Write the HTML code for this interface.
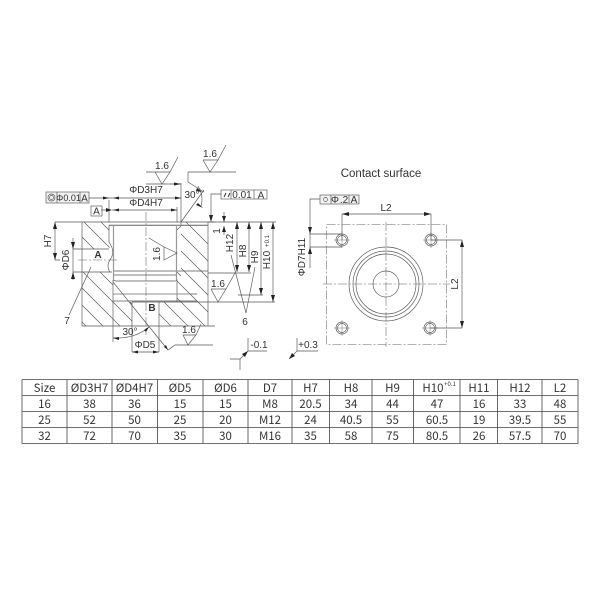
<!DOCTYPE html>
<html><head><meta charset="utf-8"><style>
html,body{margin:0;padding:0;background:#fff;width:600px;height:600px;overflow:hidden}
svg{display:block}
text{font-family:"Liberation Sans",sans-serif;font-size:10px;fill:#333;text-anchor:middle}
.t text{font-family:"Noto Sans CJK SC","Liberation Sans",sans-serif;font-size:11.5px;fill:#333}
.l{stroke:#555;stroke-width:.65;fill:none}
.g{stroke:#999;stroke-width:1.2;fill:none}
.c{stroke:#666;stroke-width:.55;fill:none;stroke-dasharray:9 2 2 2}
.a{fill:#222;stroke:none}
</style></head><body>
<svg width="600" height="600" viewBox="0 0 600 600" xmlns="http://www.w3.org/2000/svg">
<defs>
<clipPath id="h"><path d="M82 222H109V242Q111 246 109 249H82ZM82 272H111L113 282V302H132V326H82ZM181 222H208V326H159V302H177V280L181 272Z"/></clipPath>
</defs>

<!-- hatch -->
<g clip-path="url(#h)" class="l">
<path d="M164 200L304 340M147 200L287 340M130 200L270 340M113 200L253 340M96 200L236 340M79 200L219 340M62 200L202 340M45 200L185 340M28 200L168 340M11 200L151 340M-6 200L134 340M-23 200L117 340M-40 200L100 340"/>
</g>

<!-- left view outline -->
<g class="l">
<path d="M82 222V326M208 222V326M82 326H215"/>
<path d="M82 222H215M109 225.500H208M82 249H109M82 272H112M113 271H208"/>
<path d="M109 200V222M109 225V242Q116 252 110 260Q106 266 110 272M181 183V226M177 207V222"/>
<path d="M113 280Q113 280 116 281H175Q177 281 177 279"/>
<path d="M113 280V326M177 280V302M113 294H197M113 301H197M132 302V352M159 302V352M132 302H208"/>
<path d="M181 226L177 230M177 272L181 276"/>
</g>
<path class="g" d="M113.500 225V280M176.500 225V280M113 275H177"/>
<path class="g" style="stroke-width:.8" d="M109 225H208M113 294H190"/>
<path class="c" d="M146 212V335M78 260H118"/>

<!-- dims left -->
<g class="l">
<path d="M55 222H82M55 260H60M73 249H82M73 272H82M55 222V260M73 238V280"/>
<path d="M89 198H112M109 198H181M112 210H177M101 210H109"/>
<path d="M146 184H181"/>
<path d="M69 315L91 267"/>
<path d="M113 326V342M113 282L168 350L175 345H213"/>
<path d="M113 338Q135 339 149 327"/>
<path d="M132 352H159"/>
</g>
<path class="a" d="M55 222l-2 7h4zM55 260l-2 -7h4zM73 249l-2 -7h4zM73 272l-2 7h4zM113 198l6 -1.500v3zM181 198l-6 -1.500v3zM113 210l6 -1.500v3zM177 210l-6 -1.500v3zM109 198l-6 -1.500v3zM112 210l-6 -2v4zM181 184l-7 -1.500v3zM132 352l6 -1.500v3zM159 352l-6 -1.500v3zM113 338l6 -1v3zM149 327l-5 3l2 2zM168 350l-2 -5l-2 2z"/>
<text x="48" y="241" transform="rotate(-90 48 241)" dy="3">H7</text>
<text x="66" y="260" transform="rotate(-90 66 260)" dy="3">ΦD6</text>
<text x="67" y="324">7</text>
<text x="146" y="193">ΦD3H7</text>
<text x="146" y="206">ΦD4H7</text>
<text x="98" y="258" style="font-weight:bold">A</text>
<text x="152" y="311" style="font-weight:bold">B</text>
<text x="130" y="335">30°</text>
<text x="145" y="348">ΦD5</text>
<text x="192" y="198">30°</text>

<!-- FCF left -->
<g class="l">
<rect x="46" y="192" width="43" height="11" fill="#f0f0f0"/>
<path d="M57 192V203M80 192V203"/>
<circle cx="51.500" cy="197.500" r="3.500"/><circle cx="51.500" cy="197.500" r="2"/>
<rect x="91" y="206" width="11" height="10"/>
</g>
<text x="68.500" y="201" style="font-size:9px">Φ0.01</text>
<text x="84.500" y="201.500">A</text>
<text x="96.500" y="214.500">A</text>

<!-- 1.6 top -->
<g class="l">
<path d="M146 172H170L162 184L155 172M170 172L178 157"/>
<path d="M203 160H218L210 172L203 160M218 160L226 145"/>
<path d="M188 172H236M188 172V182L204 192M181 222L204 190"/>
<path d="M198 186Q204 196 201 206"/>
<rect x="221" y="190" width="46" height="9"/>
<path d="M231 190V199M254 190V199M221 194H211V220"/>
<path d="M224 212V222M224 226V235"/>
</g>
<path class="a" d="M211 222l-2 -7h4zM224 222l-2 -6h4zM224 226l-2 6h4zM202 192l-5 -4l-1 3zM203 208l-5 -5l-2 2z"/>
<text x="162" y="169">1.6</text>
<text x="210" y="157">1.6</text>
<text x="157" y="254" transform="rotate(-90 157 254)" dy="3">1.6</text>
<path class="l" d="M149 238L164 247V260L177 253L164 247"/>
<text x="242" y="198">0.01</text>
<text x="261" y="198.500">A</text>
<path d="M224 197l2 -4M228 197l2 -4" stroke="#333" stroke-width="1"/>

<!-- right dims -->
<g class="l">
<path d="M237 222V272M249 222V272M261 222V295M273 222V302"/>
<path d="M208 273H251M238 295H263M208 302H275M208 222H276"/>
<path d="M211 289H226L218 302L211 289M226 289L235 273"/>
<path d="M231 255L246 313L255 267"/>
</g>
<path class="a" d="M237 222l-2 7h4zM249 222l-2 7h4zM261 222l-2 7h4zM273 222l-2 7h4zM237 272l-2 -7h4zM249 272l-2 -7h4zM261 295l-2 -7h4zM273 302l-2 -7h4z"/>
<text x="217" y="231" transform="rotate(-90 217 231)" dy="3">1</text>
<text x="230" y="243" transform="rotate(-90 230 243)" dy="3">H12</text>
<text x="243" y="251" transform="rotate(-90 243 251)" dy="3">H8</text>
<text x="255" y="257" transform="rotate(-90 255 257)" dy="3">H9</text>
<text x="267" y="260" transform="rotate(-90 267 260)" dy="3">H10</text>
<text x="267" y="241" transform="rotate(-90 267 241)" dy="2" style="font-size:6px">+0.1</text>
<text x="218" y="287">1.6</text>
<text x="245" y="325">6</text>
<path class="l" d="M183 335H196L188 345L183 335M196 335L201 324"/>
<text x="189" y="333">1.6</text>

<!-- -0.1 +0.3 -->
<g class="l">
<path d="M248 338V351H267M248 351L240 359H230M240 359V370"/>
<path d="M297 338V351H318M297 351L289 359"/>
</g>
<path class="a" d="M248 351l-6 3l3 3zM289 359l6 -3l-3 -3z"/>
<text x="259" y="348">-0.1</text>
<text x="308" y="348">+0.3</text>

<!-- Right view -->
<text x="381" y="177" style="font-size:11.500px">Contact surface</text>
<g class="l">
<rect x="320" y="195" width="39" height="9" fill="#f2f2f2"/>
<path d="M331 195V204M349 195V204M320 199H310V268M310 234H342M310 247H342"/>
<path d="M342 214V240M431 214V240M342 214H431M462 240V328M431 240H462M430 328H462"/>
<circle cx="386" cy="284" r="37"/><circle cx="386" cy="284" r="33"/><circle cx="386" cy="284" r="30"/><circle cx="386" cy="284" r="13"/>
<circle cx="342" cy="240" r="6"/><circle cx="342" cy="240" r="4.500"/>
<circle cx="431" cy="240" r="6"/><circle cx="431" cy="240" r="4.500"/>
<circle cx="342" cy="328" r="6"/><circle cx="342" cy="328" r="4.500"/>
<circle cx="430" cy="328" r="6"/><circle cx="430" cy="328" r="4.500"/>
<path style="stroke-width:.4" d="M334 240H350M423 240H439M334 328H350M422 328H438M342 232V248M431 232V248M342 320V336M430 320V336"/>
</g>
<rect x="326.500" y="224.500" width="120" height="120" class="c"/>
<path class="c" d="M323 284H450M386 222V347"/>
<path class="a" d="M310 234l-2 -7h4zM310 247l-2 7h4zM342 214l7 -2v4zM431 214l-7 -2v4zM462 240l-2 7h4zM462 328l-2 -7h4z"/>
<text x="335" y="203">Φ</text><text x="344" y="203">.2</text>
<text x="354" y="203">A</text>
<circle cx="325.500" cy="199.500" r="2" class="l"/>
<text x="386" y="211">L2</text>
<text x="455" y="284" transform="rotate(-90 455 284)" dy="3">L2</text>
<text x="302" y="257" transform="rotate(-90 302 257)" dy="3">ΦD7H11</text>

<!-- Table -->
<g class="l" style="stroke:#444;stroke-width:.8">
<path d="M22 379.500H578M22 395.500H578M22 411.500H578M22 427.500H578M22 443.500H578"/>
<path d="M22 379.500V443.500M67 379.500V443.500M112 379.500V443.500M157.500 379.500V443.500M203 379.500V443.500M248 379.500V443.500M292 379.500V443.500M329.500 379.500V443.500M372 379.500V443.500M413.500 379.500V443.500M460 379.500V443.500M497.500 379.500V443.500M542 379.500V443.500M578 379.500V443.500"/>
</g>
<g class="t">
<text x="44.500" y="392">Size</text><text x="89.500" y="392">ØD3H7</text><text x="134.500" y="392">ØD4H7</text><text x="180" y="392">ØD5</text><text x="225.500" y="392">ØD6</text><text x="270" y="392">D7</text><text x="310.500" y="392">H7</text><text x="351" y="392">H8</text><text x="392.500" y="392">H9</text><text x="433" y="392">H10</text><text x="450" y="386" style="font-size:6px">+0.1</text><text x="479" y="392">H11</text><text x="520" y="392">H12</text><text x="560" y="392">L2</text>
<text x="44.500" y="408">16</text><text x="89.500" y="408">38</text><text x="134.500" y="408">36</text><text x="180" y="408">15</text><text x="225.500" y="408">15</text><text x="270" y="408">M8</text><text x="310.500" y="408">20.5</text><text x="351" y="408">34</text><text x="392.500" y="408">44</text><text x="437" y="408">47</text><text x="479" y="408">16</text><text x="520" y="408">33</text><text x="560" y="408">48</text>
<text x="44.500" y="424">25</text><text x="89.500" y="424">52</text><text x="134.500" y="424">50</text><text x="180" y="424">25</text><text x="225.500" y="424">20</text><text x="270" y="424">M12</text><text x="310.500" y="424">24</text><text x="351" y="424">40.5</text><text x="392.500" y="424">55</text><text x="437" y="424">60.5</text><text x="479" y="424">19</text><text x="520" y="424">39.5</text><text x="560" y="424">55</text>
<text x="44.500" y="440">32</text><text x="89.500" y="440">72</text><text x="134.500" y="440">70</text><text x="180" y="440">35</text><text x="225.500" y="440">30</text><text x="270" y="440">M16</text><text x="310.500" y="440">35</text><text x="351" y="440">58</text><text x="392.500" y="440">75</text><text x="437" y="440">80.5</text><text x="479" y="440">26</text><text x="520" y="440">57.5</text><text x="560" y="440">70</text>
</g>
</svg>
</body></html>
